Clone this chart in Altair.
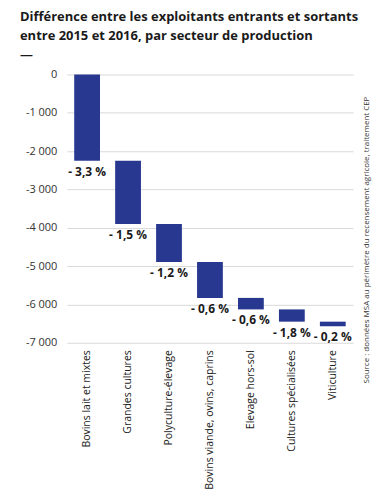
import altair as alt
import pandas as pd

categories = ["Bovins lait et mixtes", "Grandes cultures", "Polyculture-élevage",
              "Bovins viande, ovins, caprins", "Elevage hors-sol",
              "Cultures spécialisées", "Viticulture"]
deltas = [-2250, -1650, -990, -940, -300, -320, -120]
labels = ["- 3,3 %", "- 1,5 %", "- 1,2 %", "- 0,6 %", "- 0,6 %", "- 1,8 %", "- 0,2 %"]
y_ticks = [0, -1000, -2000, -3000, -4000, -5000, -6000, -7000]

ends = pd.Series(deltas).cumsum()
starts = ends - pd.Series(deltas)
df = pd.DataFrame({"cat": categories, "start": starts, "end": ends, "label": labels})

FONT = "Open Sans"
x = alt.X("cat:N", sort=categories, title=None,
          scale=alt.Scale(paddingInner=0.37, paddingOuter=0.18),
          axis=alt.Axis(labelAngle=-90, labelFont=FONT, labelFontSize=10.5, labelColor="#222",
                        domain=False, ticks=False, labelPadding=7, labelLimit=200))
yscale = alt.Scale(domain=[-7000, 0], nice=False)
yaxis = alt.Axis(values=y_ticks, tickCount=8, labelFont=FONT, labelFontSize=11, labelOverlap=False,
                 labelColor="#333", domain=False, ticks=False, labelPadding=10,
                 gridColor="#d9d9d9",
                 labelExpr="replace(replace(format(datum.value, ',.0f'), ',', ' '), '\u2212', '-')")

base = alt.Chart(df)
bars = base.mark_bar(color="#283891").encode(
    x=x, y=alt.Y("start:Q", title=None, scale=yscale, axis=yaxis), y2="end:Q")
text = base.mark_text(font=FONT, fontWeight="bold", fontSize=12, color="#1a1a1a",
                      baseline="middle", dy=11).encode(
    x=x, y=alt.Y("end:Q", title=None, scale=yscale, axis=yaxis), text="label:N")
source = alt.Chart(pd.DataFrame({"t": ["Source : données MSA au périmètre du recensement agricole, traitement CEP"]})).mark_text(
    font=FONT, fontSize=8, color="#333", angle=270, align="center", baseline="middle"
).encode(x=alt.value(301), y=alt.value(166), text="t:N")

chart = alt.layer(bars, text, source).properties(
    width=287, height=269,
    autosize="none",
    padding={"left": 59, "top": 66, "right": 22, "bottom": 149},
    title=alt.TitleParams(
        ["Différence entre les exploitants entrants et sortants",
         "entre 2015 et 2016, par secteur de production", "—"],
        anchor="start", frame="group", dx=-47, font=FONT, fontSize=13, fontWeight="bold",
        color="#1a1a1a", lineHeight=19, offset=7),
).configure_view(stroke=None)

chart.save("out.html", embed_options={"renderer": "svg", "actions": False})
